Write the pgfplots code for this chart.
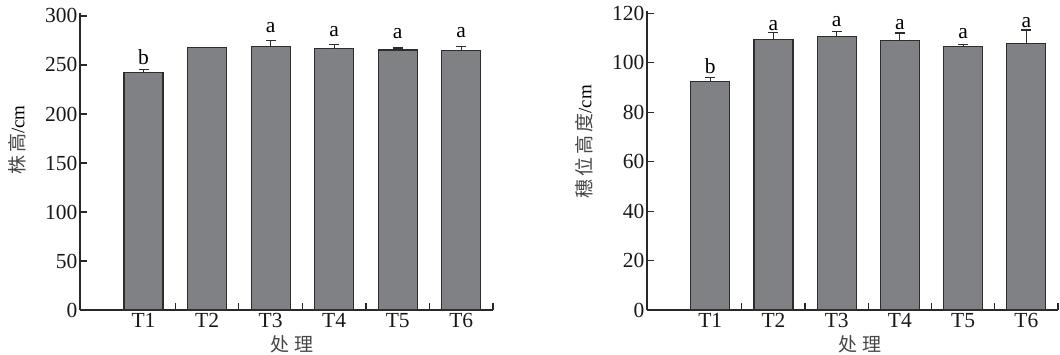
\documentclass[border=0pt]{standalone}
\usepackage{fontspec}
\setmainfont{Liberation Serif}
\newfontfamily\cjk{Noto Sans CJK SC}
\usepackage{pgfplots}
\pgfplotsset{compat=1.18}
\definecolor{barfill}{RGB}{128,129,133}
\definecolor{barline}{RGB}{45,45,45}
\definecolor{axcol}{RGB}{40,40,40}
\definecolor{cjkcol}{RGB}{70,70,70}
\newcommand{\tf}{\fontsize{21.5}{25}\selectfont}
\newcommand{\lf}{\fontsize{19}{22}\selectfont}
\pgfplotsset{
  mybar/.style={
    scale only axis,
    anchor=south west,
    clip=false,
    xmin=0, xmax=6.5,
    xtick={1.5,2.5,3.5,4.5,5.5,6.5}, xticklabels={},
    extra x ticks={1,2,3,4,5,6},
    extra x tick labels={T1,T2,T3,T4,T5,T6},
    extra x tick style={major tick length=0pt},
    axis x line*=bottom, axis y line*=left,
    axis line style={-, line width=1.2pt, draw=axcol},
    tick align=inside,
    major tick length=7pt,
    every tick/.style={line width=1.2pt, draw=axcol},
    tick label style={font=\tf, text=black!90},
    yticklabel style={xshift=1pt},
    /pgf/number format/assume math mode=true,
    ylabel style={font=\lf, anchor=center, rotate=0},
    xlabel style={font=\lf, anchor=center},
  },
  barplot/.style={
    ybar, bar width=39pt, bar shift=0pt,
    fill=barfill, draw=barline, line width=1.1pt,
    error bars/.cd, y dir=plus, y explicit,
    error bar style={line width=1.1pt, draw=barline},
    error mark options={rotate=90, mark size=5pt, line width=1.1pt, draw=barline},
  },
}
\begin{document}
\begin{tikzpicture}
\path[use as bounding box] (0,0) rectangle (1060pt,354pt);
% ---------- left: plant height ----------
\begin{axis}[mybar,
  at={(80pt,44pt)}, width=413pt, height=297pt,
  ymin=0, ymax=303, ytick={0,50,100,150,200,250,300},
  ylabel={{\color{cjkcol}\cjk 株\hspace{3pt}高}/cm},
  ylabel style={at={(axis description cs:-0.1525,0.572)}},
  xlabel={\color{cjkcol}\cjk 处\hspace{5pt}理},
  xlabel style={at={(axis description cs:0.5145,-0.1145)}},
]
\addplot[barplot] table[x=x, y=y, y error=e] {
x y e
1 242.5 2.7
2 267.7 0
3 268.4 7.0
4 267.0 4.0
5 265.3 2.0
6 264.6 4.0
};
\node[font=\tf] at (axis cs:1,258) {b};
\node[font=\tf] at (axis cs:3,288) {a};
\node[font=\tf] at (axis cs:4,284) {a};
\node[font=\tf] at (axis cs:5,282) {a};
\node[font=\tf] at (axis cs:6,283) {a};
\end{axis}
% ---------- right: ear height ----------
\begin{axis}[mybar,
  at={(647pt,44pt)}, width=411pt, height=299pt,
  ymin=0, ymax=121, ytick={0,20,40,60,80,100,120},
  ylabel={{\color{cjkcol}\cjk 穗\hspace{3pt}位\hspace{3pt}高\hspace{3pt}度}/cm},
  ylabel style={at={(axis description cs:-0.1533,0.562)}},
  xlabel={\color{cjkcol}\cjk 处\hspace{5pt}理},
  xlabel style={at={(axis description cs:0.518,-0.1137)}},
]
\addplot[barplot] table[x=x, y=y, y error=e] {
x y e
1 92.6 1.5
2 109.5 2.8
3 110.8 1.8
4 109.1 3.0
5 106.5 1.0
6 108.0 5.3
};
\node[font=\tf] at (axis cs:1,98.8) {b};
\node[font=\tf] at (axis cs:2,115.3) {a};
\node[font=\tf] at (axis cs:3,116.6) {a};
\node[font=\tf] at (axis cs:4,115.7) {a};
\node[font=\tf] at (axis cs:5,111.7) {a};
\node[font=\tf] at (axis cs:6,116.2) {a};
\end{axis}
\end{tikzpicture}
\end{document}
